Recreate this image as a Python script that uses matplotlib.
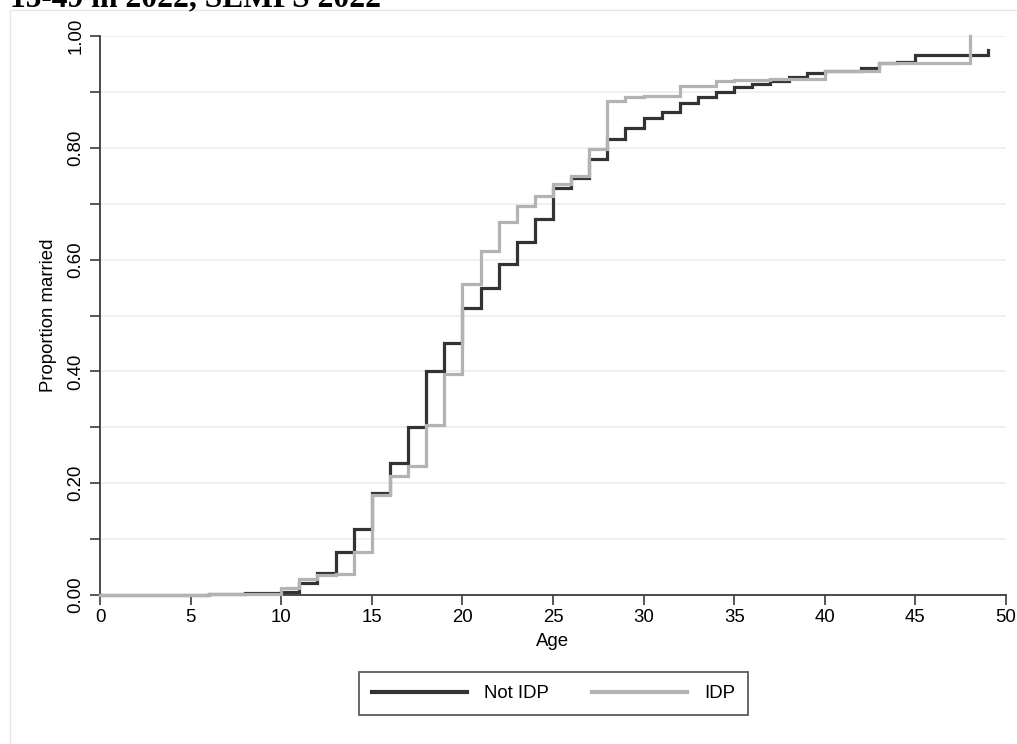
"""
Cumulative proportion married by age, IDP vs not IDP (SEMPS 2022).
Stata-style step plot (sts graph, failure) redrawn with matplotlib.
"""

import matplotlib
matplotlib.use("Agg")
import matplotlib.pyplot as plt
from matplotlib.patches import Rectangle

# ── Data ──────────────────────────────────────────────────────────────────────
ages = list(range(0, 50))

not_idp = [
    0.000, 0.000, 0.000, 0.000, 0.000, 0.000, 0.001, 0.001, 0.003, 0.004,   # 0-9
    0.005, 0.021, 0.039, 0.077, 0.118, 0.183, 0.236, 0.301, 0.401, 0.450,   # 10-19
    0.514, 0.550, 0.592, 0.632, 0.673, 0.728, 0.746, 0.780, 0.815, 0.836,   # 20-29
    0.854, 0.864, 0.881, 0.890, 0.900, 0.909, 0.915, 0.920, 0.926, 0.933,   # 30-39
    0.938, 0.938, 0.942, 0.951, 0.953, 0.966, 0.966, 0.966, 0.966, 0.975,   # 40-49
]

idp_ages = list(range(0, 49))
idp = [
    0.000, 0.000, 0.000, 0.000, 0.000, 0.000, 0.001, 0.001, 0.001, 0.002,   # 0-9
    0.012, 0.028, 0.036, 0.037, 0.077, 0.178, 0.212, 0.231, 0.305, 0.395,   # 10-19
    0.556, 0.615, 0.667, 0.695, 0.714, 0.735, 0.750, 0.797, 0.883, 0.890,   # 20-29
    0.893, 0.893, 0.911, 0.911, 0.920, 0.921, 0.922, 0.923, 0.923, 0.923,   # 30-39
    0.938, 0.938, 0.938, 0.951, 0.951, 0.951, 0.951, 0.951, 1.000,          # 40-48
]

series_labels = ["Not IDP", "IDP"]
x_ticks = list(range(0, 51, 5))
y_ticks = [0.0, 0.2, 0.4, 0.6, 0.8, 1.0]
title_text = "15-49 in 2022, SEMPS 2022"

# ── Style ─────────────────────────────────────────────────────────────────────
W, H = 1017, 744
DARK = "#333333"
LIGHT = "#b3b3b3"
GRID = "#e8f0f1"
AXIS = "#3c3c3c"
plt.rcParams["font.family"] = ["Liberation Sans", "DejaVu Sans"]

fig = plt.figure(figsize=(W / 100, H / 100), dpi=100)

# light frame of the embedded Stata graph
fig.patches.append(Rectangle((10 / W, -0.05), 1.1, (H - 10) / H + 0.05,
                             transform=fig.transFigure, fill=False,
                             edgecolor="#e6e6e6", linewidth=1.0))

# caption cut off at the top of the screenshot
fig.text(10 / W, 1 - 6 / H, title_text, family="Liberation Serif",
         weight="bold", fontsize=22.7, ha="left", va="baseline")

ax = fig.add_axes([100 / W, (H - 595) / H, 906 / W, 559 / H])

ax.step(ages, not_idp, where="post", color=DARK, lw=2.3,
        label=series_labels[0], clip_on=False, zorder=3,
        solid_joinstyle="miter")
ax.step(idp_ages, idp, where="post", color=LIGHT, lw=2.3,
        label=series_labels[1], clip_on=False, zorder=4,
        solid_joinstyle="miter")

ax.set_xlim(0, 50)
ax.set_ylim(0, 1)
ax.set_xticks(x_ticks)
ax.set_yticks(y_ticks)
ax.set_yticks([0.1, 0.3, 0.5, 0.7, 0.9], minor=True)
ax.set_yticklabels([f"{v:.2f}" for v in y_ticks], rotation=90, va="center")

ax.grid(True, which="both", axis="y", color=GRID, lw=1.2, zorder=0)
ax.set_axisbelow(True)

for side in ("top", "right"):
    ax.spines[side].set_visible(False)
for side in ("left", "bottom"):
    ax.spines[side].set_color(AXIS)
    ax.spines[side].set_linewidth(1.3)

ax.tick_params(axis="both", which="both", length=7, width=1.2,
               color=AXIS, labelsize=13.4, pad=3)
ax.tick_params(axis="y", pad=4)

ax.set_xlabel("Age", fontsize=13.4, labelpad=5)
ax.set_ylabel("Proportion married", fontsize=13.4, labelpad=8)

leg = fig.legend(loc="center", bbox_to_anchor=(553.5 / W, (H - 693.5) / H),
                 ncol=2, fontsize=13.4, frameon=True, fancybox=False,
                 edgecolor=DARK, handlelength=5.1, handletextpad=0.9,
                 columnspacing=2.35, borderpad=0.7)
leg.get_frame().set_linewidth(1.3)
for line in leg.get_lines():
    line.set_linewidth(3)

fig.savefig("out.png", dpi=100)
